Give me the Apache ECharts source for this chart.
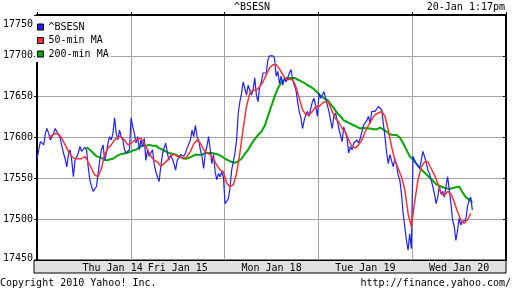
<!DOCTYPE html>
<html><head><meta charset="utf-8">
<script src="https://cdn.jsdelivr.net/npm/echarts@6/dist/echarts.min.js"></script>
<style>html,body{margin:0;padding:0;background:#fff}#c{width:512px;height:288px}</style>
</head><body><div id="c"></div>
<script>
// ---- data ----
const dayLabels = ['Thu Jan 14', 'Fri Jan 15', 'Mon Jan 18', 'Tue Jan 19', 'Wed Jan 20'];
const yTicks = [17450, 17500, 17550, 17600, 17650, 17700, 17750];
const seriesNames = ['^BSESN', '50-min MA', '200-min MA'];

// ^BSESN index, one sample per time step
const bseValues = [
17574,17585,17595,17597,17591,17605,17611,17605,17597,17599,
17605,17611,17612,17603,17599,17597,17581,17574,17564,17579,
17585,17572,17552,17572,17574,17581,17589,17583,17585,17588,
17585,17564,17548,17540,17534,17536,17540,17556,17572,17585,
17591,17572,17581,17593,17601,17597,17605,17624,17605,17597,
17609,17601,17597,17585,17581,17581,17585,17624,17613,17605,
17593,17601,17585,17597,17589,17599,17572,17585,17577,17581,
17585,17568,17558,17552,17546,17564,17579,17587,17593,17581,
17572,17579,17574,17568,17560,17572,17572,17579,17579,17577,
17581,17587,17589,17597,17609,17601,17615,17601,17597,17585,
17577,17562,17581,17589,17601,17585,17568,17579,17558,17548,
17556,17552,17558,17552,17519,17521,17525,17538,17560,17560,
17581,17597,17630,17644,17654,17668,17666,17652,17664,17662,
17652,17658,17673,17652,17644,17662,17668,
17679,17681,17679,17695,17700,17699,17700,17697,17675,17681,
17666,17675,17664,17673,17668,17673,17679,17683,17671,17664,
17658,17644,17632,17624,17611,17621,17628,17632,17626,17636,
17644,17648,17638,17626,17654,17648,17652,17656,17648,17646,
17632,17621,17611,17626,17630,17621,17611,17603,17595,17613,
17611,17599,17581,17589,17585,17593,17595,17597,17593,17599,
17607,17615,17617,17621,17626,17617,17632,17634,17632,17634,
17638,17640,17634,17617,17601,17581,17568,17579,17577,17564,
17574,17566,17554,17548,17531,17507,17491,17474,17462,17482,
17464,17577,17572,17568,17566,17562,17572,17583,17585,17570,
17560,17556,17548,17540,17531,17519,17527,17540,17531,17534,
17527,17540,17552,17536,17519,17499,17491,17474,17486,17501,
17493,17497,17495,17499,17515,17523,17527,17511
];

// 50-minute moving average, every second time step, starting at step 7
const ma50Start = 7;
const ma50Values = [
17599,17603,17605,17604,17599,17591,17583,17577,17574,17574,
17574,17577,17570,17562,17554,17552,17562,17579,17587,17591,
17597,17600,17601,17597,17591,17593,17596,17598,17599,17593,
17585,17577,17572,17570,17565,17568,17572,17577,17580,17577,
17576,17574,17577,17583,17592,17597,17593,17585,17581,17579,
17574,17566,17560,17558,17544,17540,17542,17556,17581,17611,
17638,17654,17658,17658,17662,
17668,17677,17685,17689,17689,17684,17677,17671,17671,17671,
17662,17648,17634,17628,17628,17632,17638,17638,17642,17644,
17642,17632,17623,17619,17611,17607,17597,17589,17587,17591,
17597,17607,17615,17622,17628,17630,17632,17626,17609,17589,
17572,17562,17552,17536,17507,17491,17521,17548,17564,17570,
17570,17562,17554,17544,17531,17529,17534,17531,17521,17509,
17499,17495,17499,17507
];

// 200-minute moving average, every second time step, starting at step 30
const ma200Start = 30;
const ma200Values = [
17588,17585,17581,17577,17576,17574,17572,17573,17574,17577,
17579,17580,17581,17582,17584,17585,17588,17590,17590,17591,
17590,17590,17587,17585,17583,17581,17580,17579,17577,17575,
17574,17575,17577,17579,17579,17579,17581,17581,17581,17580,
17579,17577,17574,17572,17570,17569,17571,17574,17580,17585,
17592,17598,17603,17607,
17614,17626,17638,17650,17660,17667,17671,17673,17673,17673,
17671,17669,17667,17664,17662,17659,17655,17651,17648,17646,
17641,17636,17630,17626,17621,17619,17617,17615,17613,17611,
17612,17611,17611,17610,17610,17612,17610,17607,17604,17603,
17603,17600,17593,17585,17577,17573,17568,17563,17559,17555,
17551,17547,17543,17541,17539,17538,17537,17538,17539,17540,
17533,17527,17524,17520
];

// ---- chart ----
const FONT = "'DejaVu Sans Mono', monospace";
const DAY = 56.88;            // time steps per trading day
const XMAX = DAY * 5;
const labelVals = [0.805 * DAY, 1.5 * DAY, 2.5 * DAY, 3.5 * DAY, 4.5 * DAY];
const txt = { fontFamily: FONT, fontSize: 10, color: '#000', fontWeight: 'normal' };
const colors = ['#2020ff', '#ff3030', '#00a800'];

const bseData = bseValues.map((v, i) => [i, v]);
const ma50Data = ma50Values.map((v, i) => [ma50Start + 2 * i, v]);
const ma200Data = ma200Values.map((v, i) => [ma200Start + 2 * i, v]);

const chart = echarts.init(document.getElementById('c'), null, { renderer: 'canvas' });
chart.setOption({
  animation: false,
  color: colors,
  title: [
    { text: '^BSESN', left: 234, top: 1, padding: 0, textStyle: Object.assign({ lineHeight: 12 }, txt) },
    { text: '20-Jan 1:17pm', right: 7, top: 1, padding: 0, textStyle: Object.assign({ lineHeight: 12 }, txt) },
    { text: 'Copyright 2010 Yahoo! Inc.', left: 0, top: 277, padding: 0, textStyle: Object.assign({ lineHeight: 12 }, txt) },
    { text: 'http://finance.yahoo.com/', right: 1, top: 277, padding: 0, textStyle: Object.assign({ lineHeight: 12 }, txt) }
  ],
  legend: {
    data: seriesNames,
    orient: 'vertical',
    left: 35, top: 16,
    padding: [5, 2, 2, 2],
    backgroundColor: '#fff',
    itemWidth: 6, itemHeight: 6, itemGap: 1.5,
    icon: 'rect',
    itemStyle: { borderColor: '#000', borderWidth: 1 },
    textStyle: Object.assign({ lineHeight: 12 }, txt),
    selectedMode: false
  },
  grid: [
    { left: 34, right: 6, top: 15, bottom: 28, show: false },
    { left: 34, right: 6, top: 260, height: 13, show: true, backgroundColor: '#e0e0e0', borderColor: '#000', borderWidth: 1 }
  ],
  xAxis: [
    { type: 'value', gridIndex: 0, min: 0, max: XMAX, interval: DAY, position: 'bottom',
      axisLine: { show: true, onZero: false, lineStyle: { color: '#000', width: 1 } },
      axisTick: { show: false }, axisLabel: { show: false },
      splitLine: { show: true, showMinLine: false, showMaxLine: false, lineStyle: { color: '#a4a4a4', width: 1 } } },
    { type: 'value', gridIndex: 0, min: 0, max: XMAX, position: 'bottom',
      axisLine: { show: false }, axisTick: { show: false }, splitLine: { show: false },
      axisLabel: Object.assign({ show: true, margin: 2, lineHeight: 12, customValues: labelVals,
        formatter: function (v) {
          for (let k = 0; k < labelVals.length; k++) if (Math.abs(labelVals[k] - v) < 0.01) return dayLabels[k];
          return '';
        } }, txt) },
    { type: 'value', gridIndex: 0, min: 0, max: XMAX, interval: DAY, position: 'top',
      axisLine: { show: true, onZero: false, lineStyle: { color: '#000', width: 2 } },
      axisTick: { show: true, length: 3, lineStyle: { color: '#000' } },
      axisLabel: { show: false }, splitLine: { show: false } },
    { type: 'value', gridIndex: 1, show: false, min: 0, max: 1 }
  ],
  yAxis: [
    { type: 'value', gridIndex: 0, min: yTicks[0], max: yTicks[yTicks.length - 1], interval: 50, position: 'left',
      axisLine: { show: true, onZero: false, lineStyle: { color: '#000', width: 2 } },
      axisTick: { show: true, length: 3, lineStyle: { color: '#000' } },
      axisLabel: Object.assign({ margin: 4,
        formatter: function (v) {
          if (v === yTicks[yTicks.length - 1]) return '{t|' + v + '}';
          if (v === yTicks[0]) return '{b|' + v + '}';
          return String(v);
        },
        rich: {
          t: { fontFamily: FONT, fontSize: 10, color: '#000', padding: [18, 0, 0, 0] },
          b: { fontFamily: FONT, fontSize: 10, color: '#000', padding: [0, 0, 3, 0] }
        } }, txt),
      splitLine: { show: true, showMinLine: false, showMaxLine: false, lineStyle: { color: '#a4a4a4', width: 1 } } },
    { type: 'value', gridIndex: 0, min: yTicks[0], max: yTicks[yTicks.length - 1], interval: 50, position: 'right',
      axisLine: { show: true, onZero: false, lineStyle: { color: '#000', width: 2 } },
      axisTick: { show: true, inside: true, length: 3, lineStyle: { color: '#000' } },
      axisLabel: { show: false }, splitLine: { show: false } },
    { type: 'value', gridIndex: 1, show: false, min: 0, max: 1 }
  ],
  series: [
    { name: seriesNames[0], type: 'line', xAxisIndex: 0, yAxisIndex: 0, data: bseData, showSymbol: false, silent: true,
      lineStyle: { color: colors[0], width: 1.2 }, itemStyle: { color: colors[0] }, z: 3 },
    { name: seriesNames[1], type: 'line', xAxisIndex: 0, yAxisIndex: 0, data: ma50Data, showSymbol: false, silent: true,
      lineStyle: { color: colors[1], width: 1.5 }, itemStyle: { color: colors[1] }, z: 4 },
    { name: seriesNames[2], type: 'line', xAxisIndex: 0, yAxisIndex: 0, data: ma200Data, showSymbol: false, silent: true,
      lineStyle: { color: colors[2], width: 2 }, itemStyle: { color: colors[2] }, z: 2 }
  ]
});
</script>
</body></html>
